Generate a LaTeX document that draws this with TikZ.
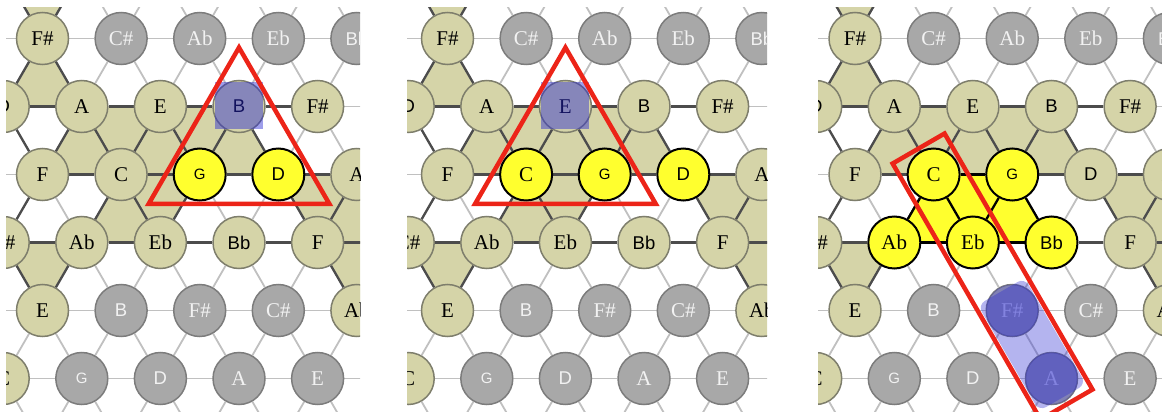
\documentclass[tikz,border=0pt]{standalone}
\usepackage{fontspec}
\setmainfont{Liberation Serif}
\setsansfont{Liberation Sans}
\usetikzlibrary{calc, backgrounds}
\definecolor{toneolive}{HTML}{D5D4A8}
\definecolor{toneedge}{HTML}{7E7E6C}
\definecolor{tonegreyfill}{HTML}{A8A8A8}
\definecolor{greyedge}{HTML}{7C7C7C}
\definecolor{toneyellowfill}{HTML}{FFFF2E}
\definecolor{linkdarkcol}{HTML}{4C4C4C}
\definecolor{linklightcol}{HTML}{C0C0C0}
\definecolor{markred}{HTML}{EC2418}
\definecolor{markblue}{HTML}{2828D2}

\begin{document}
\begin{tikzpicture}[x=1pt, y=-1pt,
    tone/.style={circle, draw=toneedge, fill=toneolive, line width=1.5pt, minimum size=52pt, inner sep=0pt, text=black},
    tonegrey/.style={tone, draw=greyedge, fill=tonegreyfill, text=white!95!black},
    toneyellow/.style={draw=black, fill=toneyellowfill, line width=2pt, text=black},
    rmnote/.style={font=\fontsize{21}{21}\selectfont},
    sfnote/.style={font=\sffamily\fontsize{18.5}{18.5}\selectfont},
    gnote/.style={font=\sffamily\fontsize{15}{15}\selectfont},
    linklight/.style={draw=linklightcol, line width=1.8pt},
    linkdark/.style={draw=linkdarkcol, line width=2.3pt},
    linkblack/.style={draw=black, line width=2.3pt},
    triad/.style={fill=toneolive},
    triadlit/.style={fill=toneyellowfill},
    redmark/.style={draw=markred, line width=4.5pt},
    bluemark/.style={fill=markblue, fill opacity=0.45},
    sel1-2-2/.style={toneyellow}, sel1-2-3/.style={toneyellow},
    sel2-2-1/.style={toneyellow}, sel2-2-2/.style={toneyellow}, sel2-2-3/.style={toneyellow},
    sel3-2-1/.style={toneyellow}, sel3-2-2/.style={toneyellow},
    sel3-3-1/.style={toneyellow}, sel3-3-2/.style={toneyellow}, sel3-3-3/.style={toneyellow},
  ]
  \useasboundingbox (0,0) rectangle (1162,412);

  % three views of the same lattice
  \foreach \p/\xo/\wl/\wr in {1/42.5/6/360, 2/447.5/407/767, 3/855/818/1162}{
    \begin{scope}
      \clip (\wl,8) rectangle (\wr,412);
      \foreach \r in {-1,...,6}{
        \foreach \c in {-1,...,5}{
          \pgfmathsetmacro\nx{\xo+78.6*\c-39.3*mod(\r+2,2)}
          \coordinate (p\p-\r-\c) at (\nx,38.5+68*\r);
        }
      }
      \foreach \r/\c/\lab/\s/\f in {
          0/0/F\#/tone/rmnote, 0/1/C\#/tonegrey/rmnote, 0/2/Ab/tonegrey/rmnote, 0/3/Eb/tonegrey/rmnote, 0/4/Bb/tonegrey/sfnote,
          1/0/D/tone/sfnote, 1/1/A/tone/rmnote, 1/2/E/tone/rmnote, 1/3/B/tone/sfnote, 1/4/F\#/tone/rmnote,
          2/0/F/tone/rmnote, 2/1/C/tone/rmnote, 2/2/G/tone/gnote, 2/3/D/tone/sfnote, 2/4/A/tone/rmnote,
          3/0/C\#/tone/rmnote, 3/1/Ab/tone/rmnote, 3/2/Eb/tone/rmnote, 3/3/Bb/tone/sfnote, 3/4/F/tone/rmnote,
          4/0/E/tone/rmnote, 4/1/B/tonegrey/sfnote, 4/2/F\#/tonegrey/rmnote, 4/3/C\#/tonegrey/rmnote, 4/4/Ab/tone/rmnote,
          5/0/C/tone/rmnote, 5/1/G/tonegrey/gnote, 5/2/D/tonegrey/sfnote, 5/3/A/tonegrey/rmnote, 5/4/E/tonegrey/rmnote}{
        \node[\s, \f, sel\p-\r-\c/.try] (p\p-\r-\c) at (p\p-\r-\c) {\lab};
      }
    \end{scope}
    \begin{pgfonlayer}{background}
      \begin{scope}
        \clip (\wl,8) rectangle (\wr,412);
        \foreach \ra/\ca/\rb/\cb/\rc/\cc in {-1/0/-1/1/0/0, 0/0/1/0/1/1, 1/1/2/0/2/1, 1/1/1/2/2/1,
            1/2/2/1/2/2, 1/2/1/3/2/2, 1/3/2/2/2/3, 2/3/2/4/3/4, 2/1/3/1/3/2, 2/1/2/2/3/2,
            3/0/3/1/4/0, 3/4/3/5/4/4, 2/4/3/4/3/5}
          \fill[triad] (p\p-\ra-\ca.center) -- (p\p-\rb-\cb.center) -- (p\p-\rc-\cc.center) -- cycle;
        \foreach \r in {-1,...,6}{
          \foreach \c in {-1,...,5}{
            \pgfmathtruncatemacro\cr{\c+1}
            \pgfmathtruncatemacro\dl{\c-mod(\r+2,2)}
            \pgfmathtruncatemacro\dr{\dl+1}
            \pgfmathtruncatemacro\rn{\r+1}
            \ifnum\c<5 \draw[linklight] (p\p-\r-\c) -- (p\p-\r-\cr); \fi
            \ifnum\r<6
              \ifnum\dl>-2 \draw[linklight] (p\p-\r-\c) -- (p\p-\rn-\dl); \fi
              \ifnum\dr<6 \draw[linklight] (p\p-\r-\c) -- (p\p-\rn-\dr); \fi
            \fi
          }
        }
        \foreach \ra/\ca/\rb/\cb in {-1/0/0/0, -1/1/0/0, 0/0/1/0, 0/0/1/1, 1/0/1/1, 1/0/2/0,
            1/1/2/0, 1/1/2/1, 2/0/2/1, 1/1/1/2, 1/2/2/1, 1/2/2/2, 2/1/2/2, 1/2/1/3, 1/3/2/2,
            1/3/2/3, 2/2/2/3, 1/3/1/4, 2/3/2/4, 2/3/3/4, 2/4/3/4, 2/1/3/1, 2/1/3/2, 3/1/3/2,
            2/2/3/2, 3/2/3/3, 3/3/3/4, 3/0/3/1, 3/0/4/0, 3/1/4/0, 3/4/3/5, 3/4/4/4, 3/5/4/4,
            2/4/3/5, 2/0/3/0}
          \draw[linkdark] (p\p-\ra-\ca) -- (p\p-\rb-\cb);
      \end{scope}
    \end{pgfonlayer}
  }

  % third view: chord region in yellow
  \begin{pgfonlayer}{background}
    \fill[triadlit] (p3-2-1.center) -- (p3-3-1.center) -- (p3-3-2.center) -- cycle;
    \fill[triadlit] (p3-2-1.center) -- (p3-2-2.center) -- (p3-3-2.center) -- cycle;
    \fill[triadlit] (p3-2-2.center) -- (p3-3-2.center) -- (p3-3-3.center) -- cycle;
    \foreach \a/\b in {2-1/2-2, 2-1/3-1, 2-1/3-2, 2-2/3-2, 2-2/3-3, 3-1/3-2, 3-2/3-3}
      \draw[linkblack] (p3-\a) -- (p3-\b);
  \end{pgfonlayer}

  % blue marks
  \fill[bluemark] ($(p1-1-3.center)+(-24,-24)$) rectangle +(48,46);
  \fill[bluemark] ($(p2-1-2.center)+(-24,-24)$) rectangle +(48,46);

  % red triangles
  \coordinate (tri1) at (barycentric cs:p1-1-3=1,p1-2-2=1,p1-2-3=1);
  \draw[redmark] ($(tri1)!2.3!(p1-1-3.center)$) -- ($(tri1)!2.3!(p1-2-2.center)$)
    -- ($(tri1)!2.3!(p1-2-3.center)$) -- cycle;
  \coordinate (tri2) at (barycentric cs:p2-1-2=1,p2-2-1=1,p2-2-2=1);
  \draw[redmark] ($(tri2)!2.3!(p2-1-2.center)$) -- ($(tri2)!2.3!(p2-2-1.center)$)
    -- ($(tri2)!2.3!(p2-2-2.center)$) -- cycle;

  % third view: band and box
  \begin{scope}
    \clip (818,8) rectangle (1162,412);
    \coordinate (banda) at ($(p3-4-2.center)!-22pt!(p3-5-3.center)$);
    \coordinate (bandb) at ($(p3-5-3.center)!-22pt!(p3-4-2.center)$);
    \fill[bluemark, fill opacity=0.35, rounded corners=8pt] ($(banda)!27pt!90:(bandb)$)
      -- ($(banda)!27pt!-90:(bandb)$) -- ($(bandb)!27pt!90:(banda)$)
      -- ($(bandb)!27pt!-90:(banda)$) -- cycle;
    \fill[bluemark, fill opacity=0.3] (p3-4-2.center) circle (26pt) (p3-5-3.center) circle (26pt);
    \coordinate (boxa) at ($(p3-2-1.center)!-30pt!(p3-5-3.center)$);
    \coordinate (boxb) at ($(p3-5-3.center)!-30pt!(p3-2-1.center)$);
    \draw[redmark] ($(boxa)!30pt!90:(boxb)$) -- ($(boxa)!30pt!-90:(boxb)$)
      -- ($(boxb)!30pt!90:(boxa)$) -- ($(boxb)!30pt!-90:(boxa)$) -- cycle;
  \end{scope}
\end{tikzpicture}
\end{document}
